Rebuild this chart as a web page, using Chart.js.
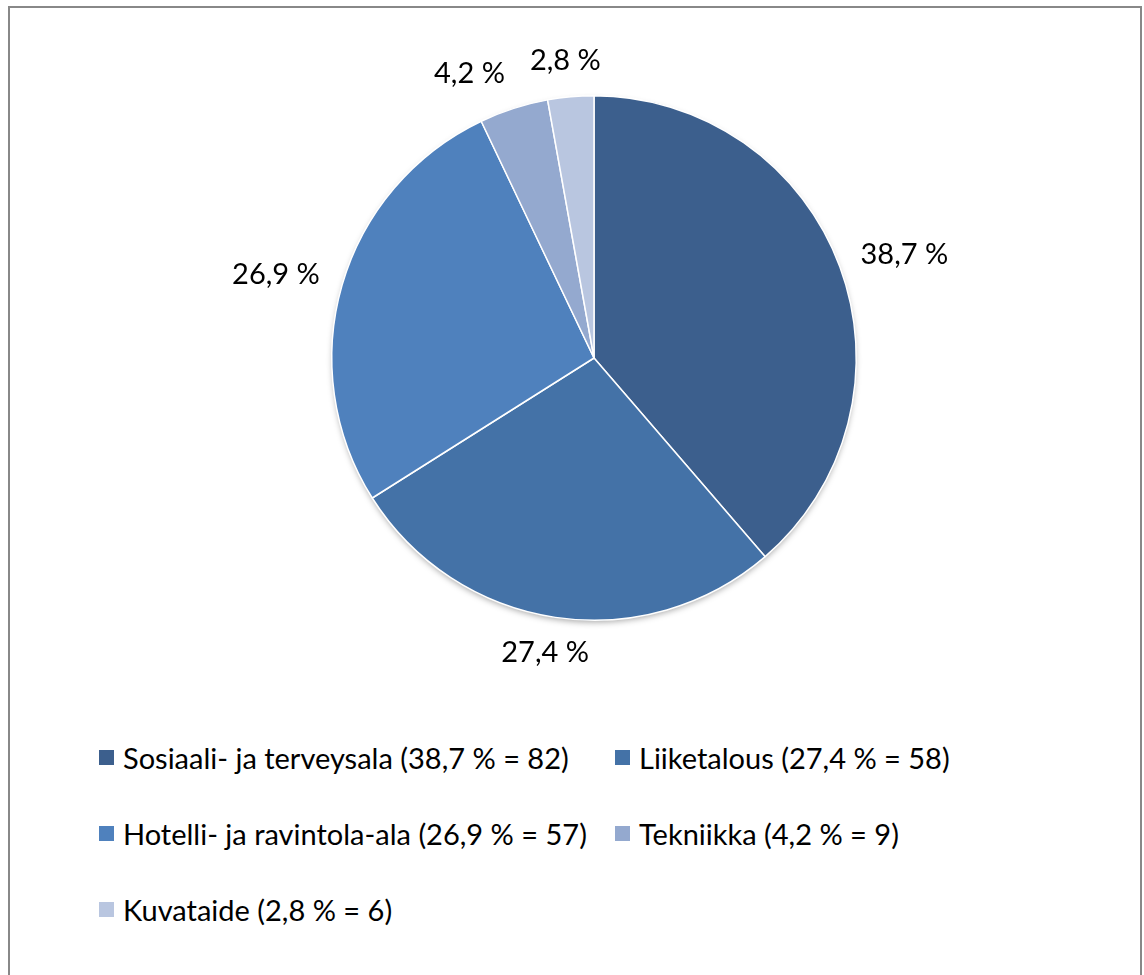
<!DOCTYPE html>
<html lang="fi">
<head>
    <meta charset="UTF-8">
    <title>Koulutusalat</title>
    <script src="https://cdn.jsdelivr.net/npm/chart.js"></script>
    <style>
        body {
            margin: 0;
            padding: 0;
            background: #fff;
            font-family: Lato, "Noto Sans", sans-serif;
        }
        .frame {
            position: absolute;
            left: 8px;
            top: 6px;
            width: 1130px;
            height: 1000px;
            border: 2px solid #888;
            border-bottom: none;
        }
        .chartbox {
            position: absolute;
            left: 0;
            top: 0;
            width: 1130px;
            height: 700px;
        }
        .legend {
            position: absolute;
            left: 89px;
            top: 730px;
            width: 1000px;
        }
        .legend .item {
            position: absolute;
            display: flex;
            align-items: center;
            font-size: 29px;
            color: #000;
            white-space: nowrap;
            height: 40px;
        }
        .legend .box {
            width: 15px;
            height: 15px;
            margin-right: 9px;
        }
    </style>
</head>
<body>
    <div class="frame">
        <div class="chartbox"><canvas id="piirakka"></canvas></div>
        <div class="legend" id="selite"></div>
    </div>

    <script>
        // Data
        const alat = ["Sosiaali- ja terveysala", "Liiketalous", "Hotelli- ja ravintola-ala", "Tekniikka", "Kuvataide"];
        const maarat = [82, 58, 57, 9, 6];
        const prosentit = ["38,7", "27,4", "26,9", "4,2", "2,8"];
        const varit = ["#3c5f8d", "#4472a7", "#4f81bd", "#94a9cf", "#b9c6e0"];

        // selite (2 saraketta)
        const selite = document.getElementById("selite");
        alat.forEach((ala, i) => {
            const div = document.createElement("div");
            div.className = "item";
            div.style.left = (i % 2 === 0 ? 0 : 516) + "px";
            div.style.top = (Math.floor(i / 2) * 76 - 1) + "px";
            div.innerHTML = `<span class="box" style="background:${varit[i]}"></span>${ala} (${prosentit[i]} % = ${maarat[i]})`;
            selite.appendChild(div);
        });

        // varjo piirakan alle
        const varjo = {
            id: "varjo",
            beforeDatasetsDraw(chart) {
                const arc = chart.getDatasetMeta(0).data[0];
                const ctx = chart.ctx;
                ctx.save();
                ctx.shadowColor = "rgba(0,0,0,0.35)";
                ctx.shadowBlur = 6;
                ctx.shadowOffsetY = 3;
                ctx.beginPath();
                ctx.arc(arc.x, arc.y, arc.outerRadius - 1, 0, Math.PI * 2);
                ctx.fillStyle = "#fff";
                ctx.fill();
                ctx.restore();
            }
        };

        // prosenttitekstit piirakan ulkopuolelle
        const tekstit = {
            id: "tekstit",
            afterDatasetsDraw(chart) {
                const ctx = chart.ctx;
                ctx.save();
                ctx.font = "29px Lato, 'Noto Sans', sans-serif";
                ctx.fillStyle = "#000";
                ctx.textAlign = "center";
                ctx.textBaseline = "middle";
                const kohdat = chart.getDatasetMeta(0).data.map((arc, i) => {
                    const kulma = (arc.startAngle + arc.endAngle) / 2;
                    const c = Math.cos(kulma), s = Math.sin(kulma);
                    const teksti = prosentit[i] + " %";
                    const w = ctx.measureText(teksti).width;
                    const h = 22;
                    const r = arc.outerRadius + 25;
                    return {
                        teksti, w,
                        x: arc.x + c * r + c * w / 2,
                        y: arc.y + s * r + s * h / 2
                    };
                });
                // päällekkäiset tekstit erilleen (siirretään vasemmalle)
                for (let i = kohdat.length - 2; i >= 0; i--) {
                    const a = kohdat[i], b = kohdat[i + 1];
                    const vali = b.x - a.x - (a.w + b.w) / 2;
                    if (Math.abs(a.y - b.y) < 30 && vali < 25) a.x -= 25 - vali;
                }
                kohdat.forEach(k => ctx.fillText(k.teksti, k.x, k.y));
                ctx.restore();
            }
        };

        new Chart(document.getElementById("piirakka"), {
            type: "pie",
            data: {
                labels: alat,
                datasets: [{
                    data: maarat,
                    backgroundColor: varit,
                    borderColor: "#fff",
                    borderWidth: 1.5
                }]
            },
            options: {
                responsive: true,
                maintainAspectRatio: false,
                animation: false,
                layout: {
                    padding: { left: 321, right: 283, top: 87, bottom: 87 }
                },
                plugins: {
                    legend: { display: false },
                    tooltip: { enabled: false }
                }
            },
            plugins: [varjo, tekstit]
        });
    </script>
</body>
</html>
